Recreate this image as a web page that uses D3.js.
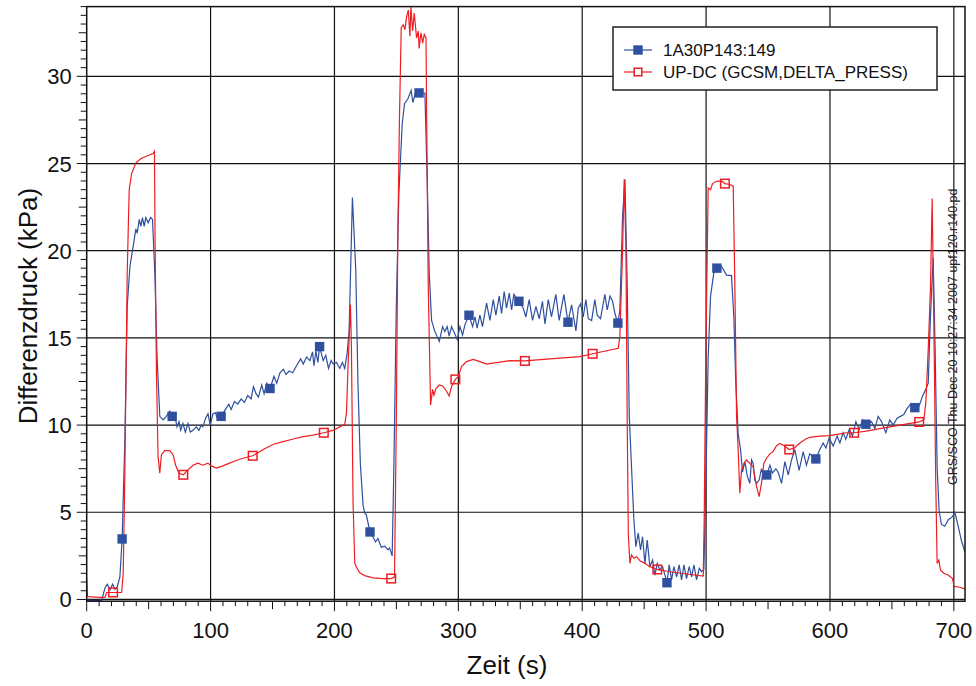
<!DOCTYPE html>
<html>
<head>
<meta charset="utf-8">
<script src="https://cdn.jsdelivr.net/npm/d3@7"></script>
<style>
  body { margin: 0; background: #fff; }
  svg { display: block; font-family: "Liberation Sans", Arial, sans-serif; }
</style>
</head>
<body>
<div id="chart"></div>
<script>
// Zeitreihen (t in s, Differenzdruck in kPa)
const blueName = "1A30P143:149";
const redName = "UP-DC (GCSM,DELTA_PRESS)";

const blueData = [
  [0,-0.05],[12,-0.05],[14.7,0.64],[16.6,0.87],[18.8,0.55],[20.9,0.87],[22.8,0.58],[24.7,0.73],[26.8,1.3],[28.6,3.47],
  [30.8,9.15],[32.7,16.8],[34.9,19.1],[37.5,20.25],[39.7,21.25],[40.8,21.0],[42.4,21.8],[43.7,21.4],[45,21.9],[46.4,21.4],
  [47.7,21.9],[49.6,21.6],[51.5,21.9],[53.1,21.8],[55,18.7],[56.8,13.9],[59,10.5],[61.7,10.3],[64.3,10.5],[67,10.8],
  [69,10.5],[71.8,10.3],[72.9,9.9],[74.5,10.2],[75.9,9.7],[77.7,10.1],[79.6,9.6],[81.8,10.1],[83.6,9.6],[85.8,9.7],
  [88.5,9.9],[90.6,9.7],[92.5,10.0],[93.8,9.9],[96,10.4],[97.9,10.65],[99.7,10.0],[101.9,10.65],[104,10.7],[105.9,10.3],
  [108.5,10.5],[112,10.9],[114.7,11.2],[116.6,10.9],[119.3,11.35],[122,11.2],[124.7,11.5],[127.3,11.3],[130,11.7],[132.7,11.5],
  [134.6,12.2],[136.7,11.8],[138.6,11.6],[141.3,12.3],[143.2,11.8],[145.3,12.4],[148,12.1],[151.2,12.8],[153.4,12.4],[156,13.0],
  [158.7,13.2],[160.9,12.9],[163.5,13.1],[166.2,13.0],[169.4,13.4],[172.7,13.8],[174.8,13.5],[177.5,13.9],[180.2,13.7],[182.3,14.2],
  [183.4,13.4],[185,14.25],[186.6,13.6],[188,14.5],[190.9,13.7],[193,14.0],[195.2,13.25],[197.3,13.7],[198.9,13.5],[201.6,13.6],
  [204.3,13.25],[206.4,13.6],[208.3,13.25],[210.2,14.1],[211.8,15.35],[214.5,23.05],[217.2,18.9],[219,12.3],[220.9,7.8],[223.1,5.4],
  [224.4,4.96],[225.7,4.85],[228.7,3.87],[231.1,3.6],[233.2,3.3],[235.1,3.5],[237.8,3.0],[240.5,3.06],[243.2,2.85],[244.5,2.96],
  [246.6,2.5],[248,7.8],[249.9,16.7],[252,23.3],[254.7,27.3],[256.6,28.45],[259.2,28.7],[261.9,29.2],[263.3,28.5],[265.4,29.07],
  [268.3,29.05],[273,29.04],[274.9,24],[276.5,18.7],[278.4,16.0],[281.1,15.36],[284.6,14.8],[287.3,15.65],[289.1,15.36],[291,15.65],
  [292.6,15.1],[294.5,15.65],[297.2,15.23],[299.1,14.9],[301.3,15.65],[303.4,15.17],[305.3,15.75],[308.6,16.3],[311.5,15.65],[313.4,16.2],
  [315.2,15.56],[317.4,16.3],[319.5,15.65],[322.8,17.0],[325.5,16.0],[328.2,17.2],[330.3,16.3],[333,17.4],[334.9,16.4],[337,17.66],
  [338.9,16.7],[341.1,17.57],[343,16.6],[344.8,17.5],[348.9,17.1],[352.4,16.7],[354.5,16.2],[357.2,17.2],[359.9,16.0],[362.6,16.8],
  [365.3,16.1],[367.9,17.1],[369.9,15.8],[372.6,17.2],[375.2,16.2],[378.7,17.5],[381.4,16.0],[385.2,17.5],[388.5,15.9],[391.4,16.9],
  [394.9,15.4],[396.8,16.7],[398.7,16.96],[400.8,16.2],[403,17.2],[404.9,16.1],[407.6,16.0],[410.2,17.2],[412.1,16.3],[414.8,16.1],
  [418.3,17.5],[420.2,16.6],[422.4,17.4],[424.5,17.1],[426.4,16.4],[428.8,15.85],[430.4,16.6],[432.6,22.0],[434.5,24.1],[436.3,18.1],
  [438,10.5],[439.8,7.6],[441.7,4.56],[443.3,3.03],[445.2,3.8],[447.1,2.84],[448.7,3.6],[450.6,2.07],[452.5,3.4],[454.6,1.88],
  [456.8,2.26],[458.7,1.4],[460.6,2.07],[462.7,1.69],[464.9,1.88],[466.8,1.4],[468.4,0.96],[470.2,1.98],[472.1,1.12],[474,1.88],
  [476.2,1.3],[478.3,1.98],[480.2,1.12],[482.1,1.98],[484.2,1.2],[486.4,1.88],[488.3,1.3],[490.2,1.98],[492.3,1.12],[494.5,1.79],
  [496.3,1.6],[498.2,1.7],[499.8,6.66],[501.7,13.9],[503.6,17.4],[506.3,18.76],[508.7,19.0],[512.5,19.1],[516.5,18.6],[520.5,18.57],
  [522.4,16.2],[524,12.4],[525.9,9.5],[527.8,8.6],[529.4,7.3],[531.3,7.9],[533.2,7.1],[535.3,6.66],[536.7,8.0],[538,7.8],
  [539.3,6.85],[540.7,6.66],[542.8,6.85],[544.7,7.5],[546.6,6.94],[549,7.14],[551.5,7.7],[553.6,7.25],[556.3,7.5],[558.2,7.3],
  [560.9,6.66],[563.6,7.9],[566.3,7.14],[569,8.0],[571.6,8.6],[575.1,7.4],[578.4,8.48],[581,7.7],[583.7,8.35],[588.6,8.06],
  [591.8,8.6],[594.5,8.97],[596.7,8.68],[599.3,9.25],[602.6,8.8],[605.8,9.37],[608,8.97],[610.6,9.56],[612.8,9.18],[615.5,9.75],
  [618.2,9.37],[620.9,10.2],[623.6,9.75],[626.3,10.3],[629,10.05],[633.5,10.2],[636.2,9.8],[638.9,10.5],[641.6,10.2],[645.1,9.56],
  [648.3,10.3],[651,10.0],[654.2,10.4],[656.9,10.5],[659.6,10.6],[661.8,10.9],[665,11.2],[668.5,11.0],[672,11.1],[674.7,11.66],
  [677.4,12.05],[679.3,12.4],[681.1,16.2],[683.3,19.6],[684.9,14.3],[686.5,7.6],[688.1,5.1],[690,4.3],[692.7,4.2],[695.4,4.56],
  [698.9,4.75],[700.8,5.0],[703.5,4.2],[706.2,3.35],[709,2.7]
];

const redData = [
  [0,1.2],[0.6,0.2],[1.3,0.16],[10.7,0.12],[14.7,0.12],[16.1,0.4],[21.3,0.4],[28.2,0.4],[29.5,1.5],[30.8,7.25],
  [32.7,18.7],[34.3,23.5],[36.2,24.4],[39.7,25.04],[44.2,25.3],[49.6,25.46],[53.6,25.57],[54.7,25.7],[55.2,20.6],[56.3,13.0],
  [57.6,8.2],[59,7.24],[60.3,8.3],[63,8.54],[67,8.54],[69.7,8.3],[71.8,7.7],[74.5,7.24],[78,7.15],[81.8,7.43],
  [85.8,7.7],[89.8,7.82],[93.8,7.7],[97.9,7.82],[100.5,7.66],[104.6,7.53],[109.9,7.66],[115.3,7.82],[120.6,7.97],[126,8.1],
  [134,8.24],[142.6,8.6],[150.7,8.9],[158.7,9.05],[166.8,9.2],[174.8,9.34],[182.8,9.42],[191.4,9.56],[198.9,9.7],[208.3,10.04],
  [209.7,10.7],[211,13.4],[212.9,16.9],[213.7,14.5],[215,5.6],[216.4,2.08],[217.7,1.86],[220.4,1.53],[224.4,1.37],[231.1,1.24],
  [239.1,1.2],[245.8,1.2],[248.5,1.3],[249.9,10.04],[251.2,21.1],[252.5,27.7],[253.9,32.8],[255.5,32.96],[256.9,32.68],[258.3,33.44],
  [259.6,33.8],[260.9,32.3],[261.7,33.97],[263.1,32.6],[264.4,33.63],[266.3,32.2],[267.6,32.6],[268.4,31.6],[269.8,32.5],[271.2,31.9],
  [272.5,32.4],[273.9,32.2],[274.4,28],[275.7,18],[277.6,11.15],[279.2,12.05],[280.3,11.72],[281.9,12.1],[284.6,12.3],[287.3,12.24],
  [290,12.0],[292.6,11.67],[294.5,12.2],[297.6,12.62],[299.9,12.78],[302.6,13.35],[306.6,13.64],[312,13.77],[317.4,13.64],[322.8,13.5],
  [330.8,13.58],[341.6,13.7],[353.7,13.68],[373.9,13.8],[398.1,13.93],[408.4,14.09],[429.1,14.4],[430.4,15.1],[432.6,20.06],[433.9,24.1],
  [435.3,20.06],[436.3,10.5],[437.2,3.8],[438.5,2.07],[439.8,2.55],[441.7,2.36],[443.9,2.45],[446.6,2.22],[450.6,2.07],[454.6,1.88],
  [460.6,1.72],[470.8,1.59],[484.2,1.46],[497.7,1.34],[498.5,4.75],[499.8,14.3],[501.7,23.6],[503.6,23.5],[505.2,23.85],[508.4,23.98],
  [512.5,24.0],[515.2,23.85],[519.2,23.8],[521.9,23.7],[523.2,18.1],[524.6,10.5],[525.9,8.6],[527.2,6.1],[528.6,7.4],[530.5,7.8],
  [532.6,8.0],[535.3,7.8],[538,7.6],[540.7,6.5],[542.8,5.9],[544.7,6.66],[546.6,7.8],[548.8,8.1],[551.5,8.35],[554.1,8.48],
  [556.8,8.8],[559.5,8.95],[562.8,8.83],[567.1,8.6],[571.6,8.7],[575.7,8.97],[580.5,9.2],[583.7,9.3],[591.8,9.37],[599.9,9.4],
  [608,9.5],[613.3,9.56],[619.5,9.56],[629.5,9.65],[640.2,9.8],[656.4,10.0],[672,10.18],[675.8,10.3],[677.4,11.3],[679.3,14.3],
  [681.1,17.8],[682.5,23.0],[683.8,16.2],[685.4,6.66],[686.5,2.07],[687.9,2.26],[689.2,1.69],[691.9,1.5],[695.4,1.4],[698.9,1.2],
  [700.2,0.75],[704.8,0.7],[709,0.6]
];

// Symbolpositionen auf den Kurven
const blueMarks = [
  [28.6,3.47],[69,10.5],[108.5,10.5],[148,12.1],[188,14.5],[228.7,3.87],[268.3,29.05],[308.6,16.3],[348.9,17.1],
  [388.5,15.9],[428.8,15.85],[468.4,0.96],[508.7,19.0],[549,7.14],[588.6,8.06],[629,10.05],[668.5,11.0]
];
const redMarks = [
  [21.3,0.4],[78,7.15],[134,8.24],[191.4,9.56],[245.8,1.2],[297.6,12.62],[353.7,13.68],[408.4,14.09],
  [460.6,1.72],[515.2,23.85],[567.1,8.6],[619.5,9.56],[672,10.18]
];

const xTicks = [0, 100, 200, 300, 400, 500, 600, 700];
const yTicks = [0, 5, 10, 15, 20, 25, 30];
const stampText = "GRS/SCO Thu Dec 20 10:27:34 2007 upf120.r140.pd";

const W = 976, H = 686;
const plot = { left: 86.7, top: 6.6, right: 965, bottom: 601.2 };
const blueColor = "#2f4f9f";
const redColor = "#ee1d23";

const svg = d3.select("#chart").append("svg")
  .attr("width", W).attr("height", H);

const x = d3.scaleLinear().domain([0, 709]).range([plot.left, plot.right]);
const y = d3.scaleLinear().domain([-0.1, 34]).range([plot.bottom, plot.top]);

// Gitterlinien
const grid = svg.append("g").attr("stroke", "#111").attr("stroke-width", 1.2);
grid.selectAll("line.gx").data(xTicks.filter(d => d > 0)).enter().append("line")
  .attr("x1", d => x(d)).attr("x2", d => x(d))
  .attr("y1", plot.top).attr("y2", plot.bottom);
grid.selectAll("line.gy").data(yTicks).enter().append("line")
  .attr("x1", plot.left).attr("x2", plot.right)
  .attr("y1", d => y(d)).attr("y2", d => y(d));

// Kleine Teilstriche
const ax = svg.append("g").attr("stroke", "#111").attr("stroke-width", 1);
ax.selectAll("line.tx").data(d3.range(0, 710, 10)).enter().append("line")
  .attr("x1", d => x(d)).attr("x2", d => x(d))
  .attr("y1", plot.bottom)
  .attr("y2", d => plot.bottom + (d % 100 === 0 ? 10 : d % 50 === 0 ? 8 : 5));
ax.selectAll("line.ty").data(d3.range(0, 34.01, 0.5)).enter().append("line")
  .attr("y1", d => y(d)).attr("y2", d => y(d))
  .attr("x1", plot.left)
  .attr("x2", d => plot.left - (d % 5 === 0 ? 10 : d % 2.5 === 0 ? 8 : 6));

// Achsenbeschriftung
svg.append("g").selectAll("text").data(xTicks).enter().append("text")
  .attr("x", d => x(d)).attr("y", 638)
  .attr("text-anchor", "middle")
  .style("font-size", "22px").style("fill", "#111")
  .text(d => d);
svg.append("g").selectAll("text").data(yTicks).enter().append("text")
  .attr("x", plot.left - 15).attr("y", d => y(d) + 8)
  .attr("text-anchor", "end")
  .style("font-size", "22px").style("fill", "#111")
  .text(d => d);

svg.append("text")
  .attr("x", 507).attr("y", 674)
  .attr("text-anchor", "middle")
  .style("font-size", "26px").style("fill", "#111")
  .text("Zeit (s)");
svg.append("text")
  .attr("transform", "translate(37,306) rotate(-90)")
  .attr("text-anchor", "middle")
  .style("font-size", "26px").style("fill", "#111")
  .text("Differenzdruck (kPa)");

// Kurven
svg.append("clipPath").attr("id", "clip").append("rect")
  .attr("x", plot.left).attr("y", plot.top)
  .attr("width", plot.right - plot.left).attr("height", plot.bottom - plot.top);

const line = d3.line().x(d => x(d[0])).y(d => y(d[1]));
const curves = svg.append("g").attr("clip-path", "url(#clip)");

curves.append("path").datum(blueData)
  .attr("d", line).attr("fill", "none")
  .attr("stroke", blueColor).attr("stroke-width", 1.2);
curves.append("path").datum(redData)
  .attr("d", line).attr("fill", "none")
  .attr("stroke", redColor).attr("stroke-width", 1.2);

curves.selectAll("rect.bm").data(blueMarks).enter().append("rect")
  .attr("x", d => x(d[0]) - 4.7).attr("y", d => y(d[1]) - 4.7)
  .attr("width", 9.4).attr("height", 9.4)
  .attr("fill", blueColor);
curves.selectAll("rect.rm").data(redMarks).enter().append("rect")
  .attr("x", d => x(d[0]) - 4.3).attr("y", d => y(d[1]) - 4.3)
  .attr("width", 8.6).attr("height", 8.6)
  .attr("fill", "none").attr("stroke", redColor).attr("stroke-width", 1.5);

// Rahmen
svg.append("rect")
  .attr("x", plot.left).attr("y", plot.top)
  .attr("width", plot.right - plot.left).attr("height", plot.bottom - plot.top)
  .attr("fill", "none").attr("stroke", "#111").attr("stroke-width", 1.5);

// Zeitstempel rechts
svg.append("text")
  .attr("transform", "translate(957,485) rotate(-90)")
  .style("font-size", "12.5px").style("fill", "#222")
  .text(stampText);

// Legende
const lg = svg.append("g");
lg.append("rect")
  .attr("x", 613).attr("y", 27).attr("width", 324).attr("height", 63)
  .attr("fill", "#fff").attr("stroke", "#222").attr("stroke-width", 1.5);
const items = [
  { name: blueName, color: blueColor, filled: true, y: 50 },
  { name: redName, color: redColor, filled: false, y: 72 }
];
items.forEach(it => {
  lg.append("line")
    .attr("x1", 624).attr("x2", 652).attr("y1", it.y).attr("y2", it.y)
    .attr("stroke", it.color).attr("stroke-width", 1.2);
  if (it.filled) {
    lg.append("rect").attr("x", 638 - 4.7).attr("y", it.y - 4.7)
      .attr("width", 9.4).attr("height", 9.4).attr("fill", it.color);
  } else {
    lg.append("rect").attr("x", 638 - 3.8).attr("y", it.y - 3.8)
      .attr("width", 7.6).attr("height", 7.6)
      .attr("fill", "#fff").attr("stroke", it.color).attr("stroke-width", 1.5);
  }
  lg.append("text")
    .attr("x", 663).attr("y", it.y + 6)
    .style("font-size", "17px").style("fill", "#111")
    .text(it.name);
});
</script>
</body>
</html>
